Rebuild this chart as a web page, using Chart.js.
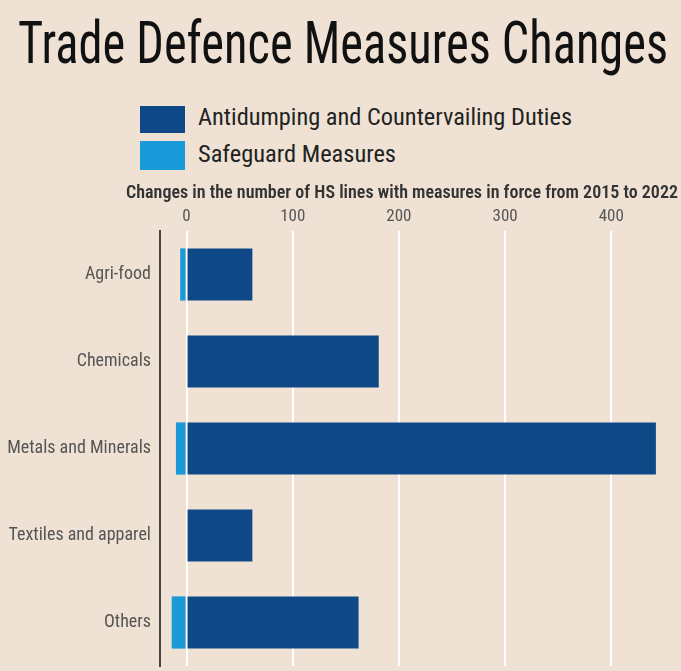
<!DOCTYPE html>
<html>
<head>
<meta charset="utf-8">
<script src="https://cdn.jsdelivr.net/npm/chart.js@4/dist/chart.umd.min.js"></script>
<style>
  html, body { margin:0; padding:0; background:#efe2d4; }
  #wrap { position:relative; width:681px; height:671px; overflow:hidden; background:#efe2d4; }
  .t { position:absolute; white-space:nowrap; transform-origin:0 0; font-family:"Roboto Condensed","Liberation Sans Narrow","DejaVu Sans Condensed",Roboto,sans-serif; }
  #title { left:18px; top:13px; font-size:60px; line-height:60px; color:#111; }
  .leg { font-size:23px; line-height:26px; color:#222; }
  .box { position:absolute; left:140px; width:45px; }
  canvas { position:absolute; left:0; top:0; }
</style>
</head>
<body>
<div id="wrap">
  <div id="title" class="t" data-w="650">Trade Defence Measures Changes</div>
  <div class="box" style="top:106px;height:27px;background:#0e4886;"></div>
  <div class="box" style="top:141px;height:29px;background:#1a9ad8;"></div>
  <div class="t leg" style="left:198px;top:105px;" data-w="374">Antidumping and Countervailing Duties</div>
  <div class="t leg" style="left:198px;top:142px;" data-w="198">Safeguard Measures</div>
  <canvas id="c" width="681" height="671"></canvas>
</div>
<script>
const categories = ["Agri-food", "Chemicals", "Metals and Minerals", "Textiles and apparel", "Others"];
const antidumping = [62, 181, 442, 62, 162];
const safeguard = [-6, 0, -10, 0, -14];
const tickValues = [0, 100, 200, 300, 400];
const axisTitle = "Changes in the number of HS lines with measures in force from 2015 to 2022";

document.querySelectorAll('.t[data-w]').forEach(el => {
  const w = el.getBoundingClientRect().width;
  const target = +el.dataset.w;
  el.style.transform = 'scaleX(' + (target / w) + ')';
});

const font = '"Roboto Condensed","Liberation Sans Narrow","DejaVu Sans Condensed",Roboto,sans-serif';

// Axis title drawn wider than the chart area (as in the original)
const axisTitlePlugin = {
  id: 'axisTitleWide',
  afterDraw(chart) {
    const ctx = chart.ctx;
    const x = chart.scales.x;
    ctx.save();
    ctx.font = '600 18px ' + font;
    ctx.fillStyle = '#333';
    ctx.textAlign = 'right';
    ctx.textBaseline = 'middle';
    ctx.fillText(axisTitle, x.right + 3, x.top + 17);
    ctx.restore();
  }
};

new Chart(document.getElementById('c'), {
  type: 'bar',
  data: {
    labels: categories,
    datasets: [
      { label: 'Antidumping and Countervailing Duties', data: antidumping, backgroundColor: '#0e4886', borderWidth: 0 },
      { label: 'Safeguard Measures', data: safeguard, backgroundColor: '#1a9ad8', borderWidth: 0 }
    ]
  },
  plugins: [axisTitlePlugin],
  options: {
    indexAxis: 'y',
    responsive: false,
    animation: false,
    events: [],
    categoryPercentage: 0.8,
    barPercentage: 0.75,
    layout: { padding: { top: 176, right: 6, bottom: 5, left: 0 } },
    plugins: { legend: { display: false }, tooltip: { enabled: false }, title: { display: false } },
    scales: {
      x: {
        position: 'top',
        stacked: true,
        min: -25,
        max: 460,
        afterBuildTicks: s => { s.ticks = tickValues.map(v => ({ value: v })); },
        afterFit: s => { s.height = 55; s.paddingLeft = 0; s.paddingRight = 0; },
        grid: { color: '#ffffff', lineWidth: 2, drawTicks: false },
        border: { display: false },
        ticks: { color: '#555', font: { family: font, size: 17 }, padding: 4 },
        title: { display: false }
      },
      y: {
        stacked: true,
        afterFit: s => { s.width = 160; s.paddingTop = 0; s.paddingBottom = 0; },
        grid: { display: false, drawTicks: false },
        border: { display: true, color: '#444', width: 2 },
        ticks: { color: '#555', font: { family: font, size: 18 }, padding: 9 }
      }
    }
  }
});
</script>
</body>
</html>
